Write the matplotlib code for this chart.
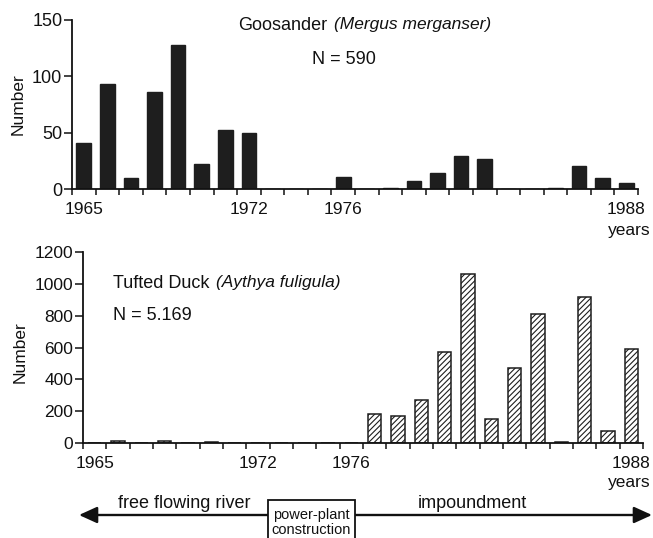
import matplotlib
matplotlib.use("Agg")
import matplotlib.pyplot as plt
from matplotlib.patches import Rectangle, FancyArrowPatch

plt.rcParams['font.family'] = ['Liberation Sans', 'DejaVu Sans']
plt.rcParams['hatch.linewidth'] = 0.8
plt.rcParams['text.color'] = '#111111'
plt.rcParams['xtick.labelcolor'] = '#111111'
plt.rcParams['ytick.labelcolor'] = '#111111'

years = list(range(1965, 1989))
goosander = [41, 93, 10, 86, 128, 22, 52, 50, 0, 0, 0, 11, 0, 1, 7, 14, 29, 27, 0, 0, 1, 20, 10, 5]
tufted = [0, 15, 0, 15, 0, 5, 0, 0, 0, 0, 0, 0, 180, 170, 270, 570, 1060, 150, 470, 810, 5, 920, 75, 590]
label_years = [1965, 1972, 1976, 1988]
top_yticks = [0, 50, 100, 150]
bot_yticks = [0, 200, 400, 600, 800, 1000, 1200]

W, H = 653, 538
fig = plt.figure(figsize=(W / 100, H / 100), dpi=100)


def box(l, r, b, t):
    return [l / W, 1 - b / H, (r - l) / W, (b - t) / H]


def fx(x):
    return x / W


def fy(y):
    return 1 - y / H


def style_axes(ax, ylim, yticks, pad):
    ax.set_xlim(1965, 1989)
    ax.set_ylim(*ylim)
    for s in ['top', 'right']:
        ax.spines[s].set_visible(False)
    for s in ['left', 'bottom']:
        ax.spines[s].set_linewidth(1.3)
        ax.spines[s].set_color('#111111')
    ax.set_yticks(yticks)
    ax.set_xticks(range(1965, 1990), minor=False)
    ax.set_xticklabels([])
    ax.set_xticks([y + 0.5 for y in label_years], minor=True)
    ax.set_xticklabels([str(y) for y in label_years], minor=True)
    ax.tick_params(axis='x', which='major', direction='out', length=4.5, width=1.1, color='#111111')
    ax.tick_params(axis='x', which='minor', length=0, pad=pad, labelsize=12.5)
    ax.tick_params(axis='y', direction='out', length=6, width=1.1, pad=1, labelsize=12.5,
                   color='#111111')
    ax.patch.set_alpha(0)


# Top chart: Goosander
ax1 = fig.add_axes(box(72, 638, 189, 20))
ax1.bar([y + 0.5 for y in years], goosander, width=0.62, color='#1e1e1e', edgecolor='#1e1e1e')
style_axes(ax1, (0, 150), top_yticks, 9)
ax1.tick_params(axis='y', labelsize=13)
fig.text(fx(18), fy(104), 'Number', rotation=90, ha='center', va='center', fontsize=12.5)
fig.text(fx(238), fy(25), 'Goosander', ha='left', va='center', fontsize=13)
fig.text(fx(334), fy(25), '(Mergus merganser)', ha='left', va='center', fontsize=12.5, style='italic')
fig.text(fx(312), fy(60), 'N = 590', ha='left', va='center', fontsize=13)
fig.text(fx(651), fy(231), 'years', ha='right', va='center', fontsize=12.5)

# Bottom chart: Tufted Duck
ax2 = fig.add_axes(box(83, 643, 443, 252))
ax2.bar([y + 0.5 for y in years], tufted, width=0.57, color='white', edgecolor='#1e1e1e',
        linewidth=1.1, hatch='//////')
style_axes(ax2, (0, 1200), bot_yticks, 9)
fig.text(fx(20), fy(352), 'Number', rotation=90, ha='center', va='center', fontsize=12.5)
fig.text(fx(113), fy(283), 'Tufted Duck', ha='left', va='center', fontsize=13)
fig.text(fx(216), fy(283), '(Aythya fuligula)', ha='left', va='center', fontsize=12.5, style='italic')
fig.text(fx(113), fy(316), 'N = 5.169', ha='left', va='center', fontsize=13)
fig.text(fx(651), fy(483), 'years', ha='right', va='center', fontsize=12.5)

# Timeline arrows
ay = 515
for x0, x1 in [(268, 79), (355, 652)]:
    arr = FancyArrowPatch((fx(x0), fy(ay)), (fx(x1), fy(ay)), transform=fig.transFigure,
                          arrowstyle='-|>,head_length=11,head_width=5', mutation_scale=1,
                          color='#111111', linewidth=1.7, shrinkA=0, shrinkB=0)
    fig.add_artist(arr)
fig.add_artist(Rectangle((fx(268), fy(545)), fx(355) - fx(268), fy(500) - fy(545),
                         transform=fig.transFigure, facecolor='white', edgecolor='#111111',
                         linewidth=1.3))
fig.text(fx(311.5), fy(515), 'power-plant', ha='center', va='center', fontsize=10.5)
fig.text(fx(311.5), fy(530), 'construction', ha='center', va='center', fontsize=10.5)
fig.text(fx(118), fy(503), 'free flowing river', ha='left', va='center', fontsize=13)
fig.text(fx(418), fy(503), 'impoundment', ha='left', va='center', fontsize=13)

fig.savefig('out.png', dpi=100)
